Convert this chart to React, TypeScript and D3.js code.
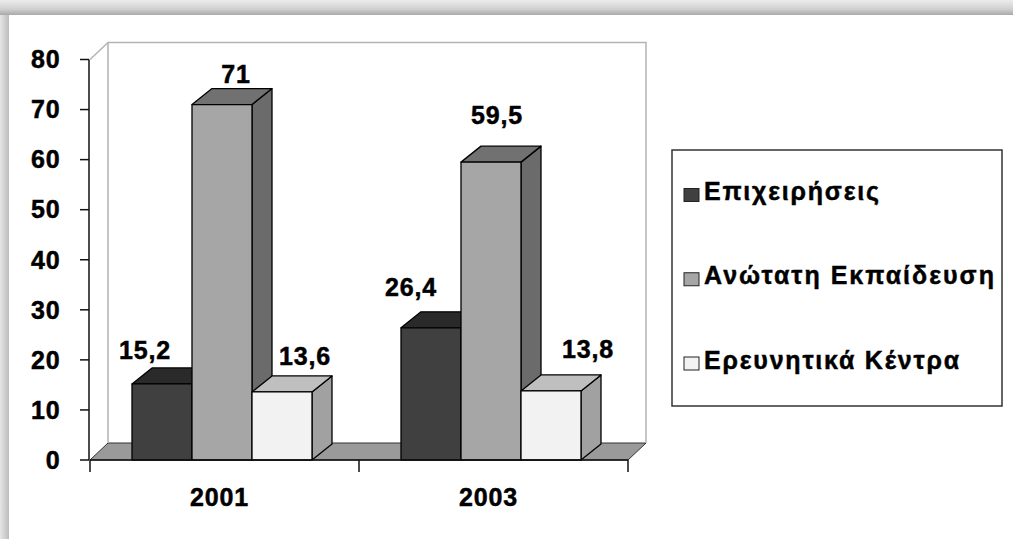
import React from 'react';
import * as d3 from 'd3';

const categories = ['2001', '2003'];
const seriesNames = ['Επιχειρήσεις', 'Ανώτατη Εκπαίδευση', 'Ερευνητικά Κέντρα'];
const businessValues = [15.2, 26.4];
const higherEduValues = [71, 59.5];
const researchValues = [13.6, 13.8];
const yTickValues = [0, 10, 20, 30, 40, 50, 60, 70, 80];

const seriesValues = [businessValues, higherEduValues, researchValues];

const frontColors = ['#404040', '#a6a6a6', '#f2f2f2'];
const topColors = ['#2a2a2a', '#717171', '#bfbfbf'];
const sideColors = ['#262626', '#6b6b6b', '#a1a1a1'];

// layout (label offsets relative to bar front-top centre, per category / series)
const labelDx = [[-17, 14, 23], [-20, 6, 37]];
const labelDy = [[25, 21.5, 26.5], [32, 38, 33]];
const legendTextWidths = [175, 290, 255];

const W = 1013, H = 539;
const plotLeft = 90, plotRight = 628, y0 = 460, yTop = 59.5;
const DX = 20, DY = -16;
const WDX = 18, WDY = -17;
const FONT = '"Liberation Sans", Arial, sans-serif';

const fmt = (v: number) => String(v).replace('.', ',');
const pts = (p: number[][]) => p.map(q => q.join(',')).join(' ');

const numStyle = {
  fontSize: 25,
  fontWeight: 'bold' as const,
  letterSpacing: 0.8,
  fill: '#000',
  stroke: '#000',
  strokeWidth: 0.5,
};

export default function App() {
  const x = d3.scaleBand().domain(categories).range([plotLeft, plotRight]);
  const xs = d3.scaleBand().domain(seriesNames).range([42, 222]);
  const y = d3.scaleLinear().domain([0, 80]).range([y0, yTop]);
  const bw = xs.bandwidth();

  const legendY = d3.scalePoint().domain(seriesNames).range([200, 368.5]);

  return (
    <svg width={W} height={H} style={{ position: 'absolute', left: 0, top: 0 }} fontFamily={FONT}>
      <defs>
        <linearGradient id="topShade" x1="0" y1="0" x2="0" y2="1">
          <stop offset="0" stopColor="#ececec" />
          <stop offset="0.6" stopColor="#d0d0d0" />
          <stop offset="1" stopColor="#a9a9a9" />
        </linearGradient>
        <linearGradient id="leftShade" x1="0" y1="0" x2="1" y2="0">
          <stop offset="0" stopColor="#e6e6e6" />
          <stop offset="1" stopColor="#bcbcbc" />
        </linearGradient>
      </defs>
      <rect x={0} y={0} width={W} height={H} fill="#fff" />
      <rect x={0} y={0} width={9} height={H} fill="url(#leftShade)" />
      <rect x={0} y={0} width={W} height={15} fill="url(#topShade)" />

      {/* floor */}
      <polygon
        points={pts([[plotLeft, y0], [plotLeft + WDX, y0 + WDY], [plotRight + WDX, y0 + WDY], [plotRight, y0]])}
        fill="#9a9a9a" stroke="#333" strokeWidth={1} />
      {/* walls */}
      <polyline
        points={pts([[plotLeft + WDX, y0 + WDY], [plotLeft + WDX, yTop + WDY], [plotRight + WDX, yTop + WDY], [plotRight + WDX, y0 + WDY]])}
        fill="none" stroke="#b3b3b3" strokeWidth={1.5} />
      <line x1={plotLeft} y1={yTop} x2={plotLeft + WDX} y2={yTop + WDY} stroke="#b3b3b3" strokeWidth={1.5} />

      {/* bars */}
      {categories.map((cat, ci) => (
        <g key={cat}>
          {seriesNames.map((s, si) => {
            const v = seriesValues[si][ci];
            const bx = (x(cat) as number) + (xs(s) as number);
            const t = y(v);
            return (
              <g key={s} stroke="#000" strokeWidth={1.3} strokeLinejoin="round">
                <polygon points={pts([[bx + bw, t], [bx + bw + DX, t + DY], [bx + bw + DX, y0 + DY], [bx + bw, y0]])} fill={sideColors[si]} />
                <polygon points={pts([[bx, t], [bx + DX, t + DY], [bx + bw + DX, t + DY], [bx + bw, t]])} fill={topColors[si]} />
                <rect x={bx} y={t} width={bw} height={y0 - t} fill={frontColors[si]} />
              </g>
            );
          })}
        </g>
      ))}

      {/* value labels */}
      {categories.map((cat, ci) =>
        seriesNames.map((s, si) => {
          const v = seriesValues[si][ci];
          const bx = (x(cat) as number) + (xs(s) as number);
          return (
            <text key={cat + s} x={bx + bw / 2 + labelDx[ci][si]} y={y(v) - labelDy[ci][si]}
              textAnchor="middle" {...numStyle}>
              {fmt(v)}
            </text>
          );
        })
      )}

      {/* y axis */}
      <line x1={plotLeft - 1} y1={yTop} x2={plotLeft - 1} y2={y0} stroke="#111" strokeWidth={1.5} />
      {yTickValues.map(t => (
        <g key={t}>
          <line x1={plotLeft - 10} x2={plotLeft - 1} y1={y(t)} y2={y(t)} stroke="#111" strokeWidth={1.5} />
          <text x={60.5} y={y(t)} dy="0.35em" textAnchor="end" {...numStyle}>{t}</text>
        </g>
      ))}

      {/* x axis */}
      <line x1={plotLeft} x2={plotRight} y1={y0} y2={y0} stroke="#111" strokeWidth={1.5} />
      {[...categories.map(c => x(c) as number), plotRight].map((tx, i) => (
        <line key={i} x1={tx} x2={tx} y1={y0} y2={y0 + 12} stroke="#111" strokeWidth={1.5} />
      ))}
      {categories.map(c => (
        <text key={c} x={(x(c) as number) + x.bandwidth() / 2 - 5} y={505.5} textAnchor="middle" {...numStyle}>{c}</text>
      ))}

      {/* legend */}
      <rect x={672} y={150} width={330} height={256} fill="#fff" stroke="#333" strokeWidth={1.5} />
      {seriesNames.map((s, si) => {
        const ly = legendY(s) as number;
        return (
          <g key={s}>
            <rect x={684} y={ly - 11.5} width={15} height={13} fill={frontColors[si]} stroke="#222" strokeWidth={1} />
            <text x={704} y={ly} fontSize={25} fontWeight="bold" fill="#000" stroke="#000" strokeWidth={0.45}
              textLength={legendTextWidths[si]} lengthAdjust="spacing">{s}</text>
          </g>
        );
      })}
    </svg>
  );
}
